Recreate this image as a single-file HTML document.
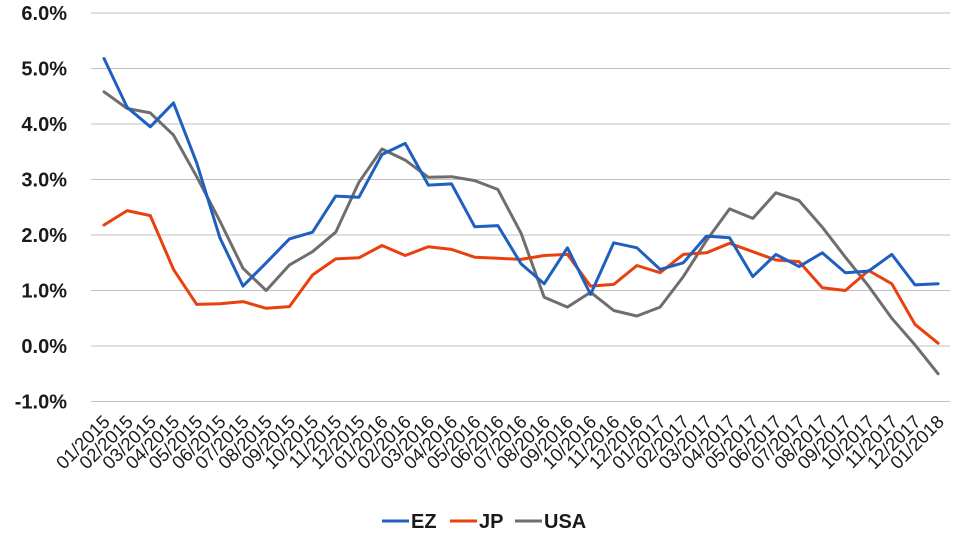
<!DOCTYPE html>
<html><head><meta charset="utf-8"><style>
html,body{margin:0;padding:0;background:#fff;}
svg{display:block;}
.yl{font-family:"Liberation Sans",sans-serif;font-weight:bold;font-size:20px;fill:#1a1a1a;}
.xl{font-family:"Liberation Sans",sans-serif;font-size:18.5px;fill:#1a1a1a;}
.lg{font-family:"Liberation Sans",sans-serif;font-weight:bold;font-size:20px;fill:#1a1a1a;}
</style></head><body>
<svg id="c" width="966" height="543" xmlns="http://www.w3.org/2000/svg"></svg>
<script>
var s=document.getElementById('c');var h='';
function Y(v){return 346-55.5*v;}
for(var i=-1;i<=6;i++){var y=Y(i);
h+='<line x1="91" x2="950" y1="'+y+'" y2="'+y+'" stroke="#c0c0c0" stroke-width="1"/>';
h+='<text class="yl" x="67" y="'+(y+7)+'" text-anchor="end">'+i.toFixed(1)+'%</text>';}
function X(i){return 104+i*23.17;}
var labels=[];for(var k=0;k<37;k++){var m=(k%12)+1,yr=2015+Math.floor(k/12);labels.push((m<10?'0':'')+m+'/'+yr);}
for(var k=0;k<37;k++){var x=X(k)+7,y=423;
h+='<text class="xl" x="'+x+'" y="'+y+'" text-anchor="end" transform="rotate(-45 '+x+' '+y+')">'+labels[k]+'</text>';}
var EZ=[5.18,4.3,3.95,4.38,3.3,1.95,1.08,1.5,1.93,2.05,2.7,2.68,3.45,3.65,2.9,2.92,2.15,2.17,1.48,1.12,1.77,0.93,1.86,1.77,1.38,1.5,1.98,1.95,1.25,1.65,1.43,1.68,1.32,1.35,1.65,1.1,1.12];
var JP=[2.18,2.44,2.35,1.38,0.75,0.76,0.8,0.68,0.71,1.28,1.57,1.59,1.81,1.63,1.79,1.74,1.6,1.58,1.56,1.63,1.65,1.08,1.11,1.45,1.32,1.65,1.68,1.85,1.7,1.55,1.52,1.05,1.0,1.36,1.12,0.39,0.05];
var US=[4.58,4.28,4.2,3.8,3.05,2.25,1.4,1.0,1.46,1.7,2.05,2.95,3.55,3.35,3.04,3.05,2.98,2.82,2.03,0.88,0.7,0.97,0.64,0.54,0.7,1.25,1.9,2.47,2.3,2.76,2.62,2.14,1.6,1.08,0.5,0.02,-0.5];
function P(d,c){var p=d.map(function(v,i){return X(i).toFixed(1)+','+Y(v).toFixed(1);}).join(' ');
return '<polyline points="'+p+'" fill="none" stroke="'+c+'" stroke-width="3" stroke-linejoin="round" stroke-linecap="round"/>';}
h+=P(US,'#6e6e6e')+P(JP,'#e8410e')+P(EZ,'#1f5fbf');
var ly=521;
h+='<line x1="382" x2="409" y1="'+ly+'" y2="'+ly+'" stroke="#1f5fbf" stroke-width="3"/><text class="lg" x="411" y="'+(ly+7)+'">EZ</text>';
h+='<line x1="450" x2="477" y1="'+ly+'" y2="'+ly+'" stroke="#e8410e" stroke-width="3"/><text class="lg" x="479" y="'+(ly+7)+'">JP</text>';
h+='<line x1="515" x2="542" y1="'+ly+'" y2="'+ly+'" stroke="#6e6e6e" stroke-width="3"/><text class="lg" x="544" y="'+(ly+7)+'">USA</text>';
s.innerHTML=h;
</script>
</body></html>
